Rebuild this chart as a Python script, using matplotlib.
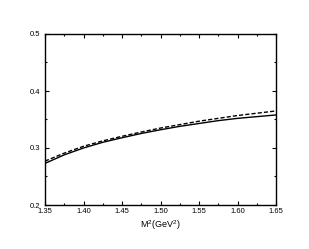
import numpy as np
import matplotlib.pyplot as plt
from matplotlib.ticker import MultipleLocator

plt.rcParams['font.family'] = ['Liberation Sans', 'DejaVu Sans']
plt.rcParams['mathtext.fontset'] = 'custom'
plt.rcParams['mathtext.rm'] = 'Liberation Sans'

# Valores
m2 = [1.35, 1.375, 1.40, 1.425, 1.45, 1.475, 1.50, 1.525, 1.55, 1.575, 1.60, 1.625, 1.65]
solid = [0.273, 0.288, 0.300, 0.310, 0.318, 0.3255, 0.332, 0.338, 0.343, 0.348, 0.352, 0.355, 0.358]
dashed = [0.277, 0.291, 0.303, 0.3125, 0.3205, 0.328, 0.335, 0.341, 0.347, 0.352, 0.357, 0.361, 0.365]

fig = plt.figure(figsize=(3.09, 2.49), dpi=100)
ax = fig.add_axes([45 / 309, 1 - 205 / 249, (276 - 45) / 309, (205 - 34) / 249])

ax.plot(m2, solid, color='black', lw=1.0, ls='-')
ax.plot(m2, dashed, color='black', lw=1.0, ls=(0, (3, 1.5)))

ax.set_xlim(1.35, 1.65)
ax.set_ylim(0.2, 0.5)
ax.xaxis.set_major_locator(MultipleLocator(0.05))
ax.xaxis.set_minor_locator(MultipleLocator(0.025))
ax.yaxis.set_major_locator(MultipleLocator(0.1))
ax.yaxis.set_minor_locator(MultipleLocator(0.05))
ax.xaxis.set_major_formatter(lambda v, p: f'{v:.2f}')
ax.yaxis.set_major_formatter(lambda v, p: f'{v:.1f}')

ax.tick_params(which='both', direction='in', top=True, right=True, labelsize=5.5)
ax.tick_params(axis='x', pad=2.5)
ax.tick_params(axis='y', pad=3.5)
ax.tick_params(which='major', length=3, width=0.8)
ax.tick_params(which='minor', length=1.5, width=0.8)
for s in ax.spines.values():
    s.set_linewidth(1.0)

ax.set_xlabel(r'M$^2$(GeV$^2$)', fontsize=6.5, labelpad=2)

fig.savefig('out.png', dpi=100)
